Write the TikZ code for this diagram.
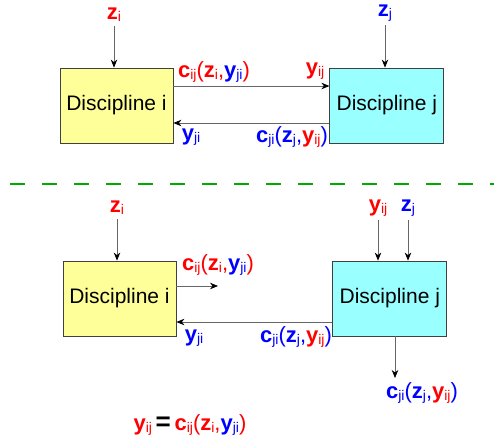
\documentclass[tikz,border=0pt]{standalone}
\usepackage{fontspec}
\setmainfont{Liberation Sans}
\usetikzlibrary{positioning,arrows.meta}
\definecolor{boxyellow}{RGB}{255,255,153}
\definecolor{boxcyan}{RGB}{153,255,255}
\definecolor{dashgreen}{RGB}{0,170,0}
\newcommand{\lbl}[2]{\textbf{#1}\raisebox{-0.15ex}{\fontsize{14}{14}\selectfont #2}}
\newcommand{\rd}[1]{\textcolor{red}{#1}}
\newcommand{\bl}[1]{\textcolor{blue}{#1}}
\tikzset{
  disc/.style={draw=black!75, line width=0.8pt, minimum width=113pt, minimum height=75pt, font=\fontsize{21}{21}\selectfont, inner sep=0pt},
  var/.style={font=\fontsize{22}{22}\selectfont, inner sep=1pt},
  flow/.style={draw=black!60, line width=0.8pt, -{Stealth[black,length=8pt,width=6.5pt,inset=2.5pt]}}
}
\begin{document}
\begin{tikzpicture}[x=1pt,y=-1pt]
        \useasboundingbox (0,0) rectangle (494,441);
        % upper coupled system
        \node (disci) [disc, fill=boxyellow] at (116.5,105.5) {Discipline i};
        \node (discj) [disc, fill=boxcyan, minimum width=114pt, right=156pt of disci] {Discipline j};
        \node (zi) [var] at (114,15) {\rd{\lbl{z}{i}}};
        \node (zj) [var] at (385,13) {\bl{\lbl{z}{j}}};
        \node (cij) [var] at (214,72) {\rd{\lbl{c}{ij}(\lbl{z}{i},\bl{\lbl{y}{ji}})}};
        \node (yij) [var] at (315,71) {\rd{\lbl{y}{ij}}};
        \node (yji) [var] at (191,137) {\bl{\lbl{y}{ji}}};
        \node (cji) [var] at (292,137) {\bl{\lbl{c}{ji}(\lbl{z}{j},\rd{\lbl{y}{ij}})}};
        
        \draw[flow] ([yshift=-3pt]zi.south) -- (zi |- disci.north);
        \draw[flow] ([yshift=-3pt]zj.south) -- (zj |- discj.north);
        \draw[flow] ([yshift=19.5pt]disci.east) -- ([yshift=19.5pt]discj.west);
        \draw[flow] ([yshift=-17.5pt]discj.west) -- ([yshift=-17.5pt]disci.east);
        
        \draw[dashgreen, line width=1.6pt, dash pattern=on 15pt off 17pt] (10,184) -- (494,184);
        
        % lower decoupled system
        \node (discib) [disc, fill=boxyellow] at (119.5,298.5) {Discipline i};
        \node (discjb) [disc, fill=boxcyan, minimum width=114pt, right=156pt of discib] {Discipline j};
        \node (zib) [var] at (117,208) {\rd{\lbl{z}{i}}};
        \node (yijb) [var] at (378,208) {\rd{\lbl{y}{ij}}};
        \node (zjb) [var] at (408,208) {\bl{\lbl{z}{j}}};
        \node (cijb) [var] at (218,265) {\rd{\lbl{c}{ij}(\lbl{z}{i},\bl{\lbl{y}{ji}})}};
        \node (yjib) [var] at (194,338) {\bl{\lbl{y}{ji}}};
        \node (cjib) [var] at (296,337) {\bl{\lbl{c}{ji}(\lbl{z}{j},\rd{\lbl{y}{ij}})}};
        \node (cjiout) [var] at (422,393) {\bl{\lbl{c}{ji}(\lbl{z}{j},\rd{\lbl{y}{ij}})}};
        \coordinate (cijend) at (218,286);
        \coordinate (cjiend) at (395,378);
        
        \draw[flow] ([yshift=-3pt]zib.south) -- (zib |- discib.north);
        \draw[flow] ([yshift=-3pt]yijb.south) -- (yijb |- discjb.north);
        \draw[flow] ([yshift=-3pt]zjb.south) -- (zjb |- discjb.north);
        \draw[flow] (discib.east |- cijend) -- (cijend);
        \draw[flow] ([yshift=-23.5pt]discjb.west) -- ([yshift=-23.5pt]discib.east);
        \draw[flow] (cjiend |- discjb.south) -- (cjiend);
        
        \node (eq) [var] at (190,425) {\rd{\lbl{y}{ij}}\,{\fontsize{26}{26}\selectfont\textbf{=}}\,\rd{\lbl{c}{ij}(\lbl{z}{i},\bl{\lbl{y}{ji}})}};
    \end{tikzpicture}
\end{document}
